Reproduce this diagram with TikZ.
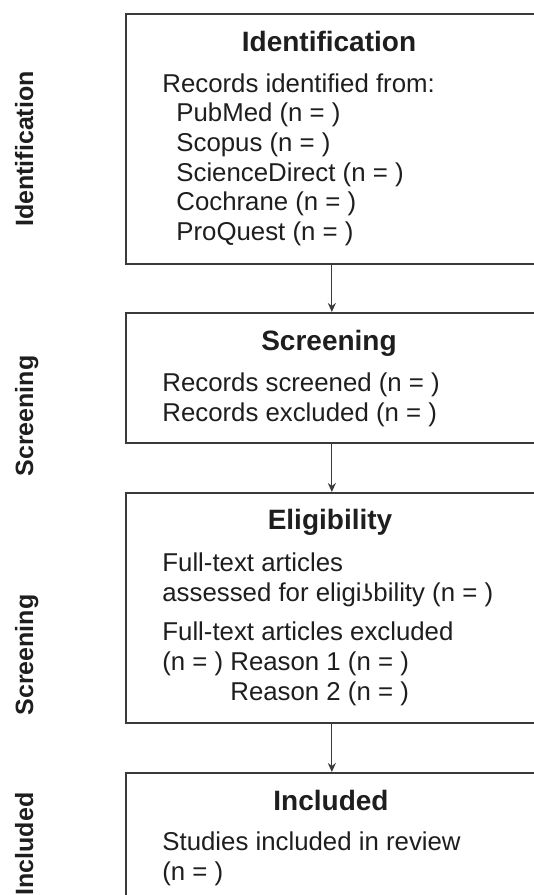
\documentclass[tikz,border=0pt]{standalone}
\usepackage{fontspec}
\setmainfont{Liberation Sans}
\newfontfamily\ipafont{DejaVu Sans}
\usetikzlibrary{arrows.meta}
\definecolor{boxcol}{HTML}{3A3A3A}
\definecolor{txt}{HTML}{1E1E1E}
\begin{document}
\begin{tikzpicture}[x=0.5pt,y=-0.5pt,
 box/.style={draw=boxcol, line width=0.85pt, anchor=north west, minimum width=206pt, inner sep=0pt},
 ttl/.style={anchor=base, font=\fontsize{14}{16}\selectfont\bfseries, text=txt, inner sep=0pt},
 body/.style={anchor=base west, font=\fontsize{12.9}{15}\selectfont, text=txt, inner sep=0pt},
 side/.style={anchor=base, rotate=90, font=\fontsize{12.5}{15}\selectfont\bfseries, text=txt, inner sep=0pt},
 arr/.style={-{Stealth[length=4.5pt,width=4pt]}, line width=0.6pt, draw=boxcol}]
\fill[white] (0,0) rectangle (534,895);
\useasboundingbox (0,0) rectangle (534,895);
% boxes
\node[box, minimum height=125pt] (b1) at (125,13) {};
\node[box, minimum height=65pt] (b2) at (125,312) {};
\node[box, minimum height=115pt] (b3) at (125,492) {};
\node[box, minimum height=66pt] (b4) at (125,772) {};
% arrows
\draw[arr] (b1.south) -- (b2.north);
\draw[arr] (b2.south) -- (b3.north);
\draw[arr] (b3.south) -- (b4.north);
% side labels
\node[side] (s1) at (33,149) {Identification};
\node[side] (s2) at (33,416) {Screening};
\node[side] (s3) at (33,655) {Screening};
\node[side] (s4) at (33,844) {Included};
% box 1
\node[ttl] (t1) at (329,51.7) {Identification};
\node[body] (l11) at (162,92.7) {Records identified from:};
\node[body] (l12) at (176,121.7) {PubMed (n = )};
\node[body] (l13) at (176,151.4) {Scopus (n = )};
\node[body] (l14) at (176,181) {ScienceDirect (n = )};
\node[body] (l15) at (176,210.5) {Cochrane (n = )};
\node[body] (l16) at (176,240) {ProQuest (n = )};
% box 2
\node[ttl] (t2) at (329,350) {Screening};
\node[body] (l21) at (162,391) {Records screened (n = )};
\node[body] (l22) at (162,421.7) {Records excluded (n = )};
% box 3
\node[ttl] (t3) at (330,529) {Eligibility};
\node[body] (l31) at (162,571.7) {Full-text articles};
\node[body] (l32) at (162,601.7) {assessed for eligi{\ipafont\fontsize{11.5}{13}\selectfont ʖ}bility (n = )};
\node[body] (l33) at (162,640.7) {Full-text articles excluded};
\node[body] (l34) at (162,670) {(n = )};
\node[body] (l35) at (230,670) {Reason 1 (n = )};
\node[body] (l36) at (230,700) {Reason 2 (n = )};
% box 4
\node[ttl] (t4) at (331,810) {Included};
\node[body] (l41) at (162,850) {Studies included in review};
\node[body] (l42) at (162,880) {(n = )};
\end{tikzpicture}
\end{document}
